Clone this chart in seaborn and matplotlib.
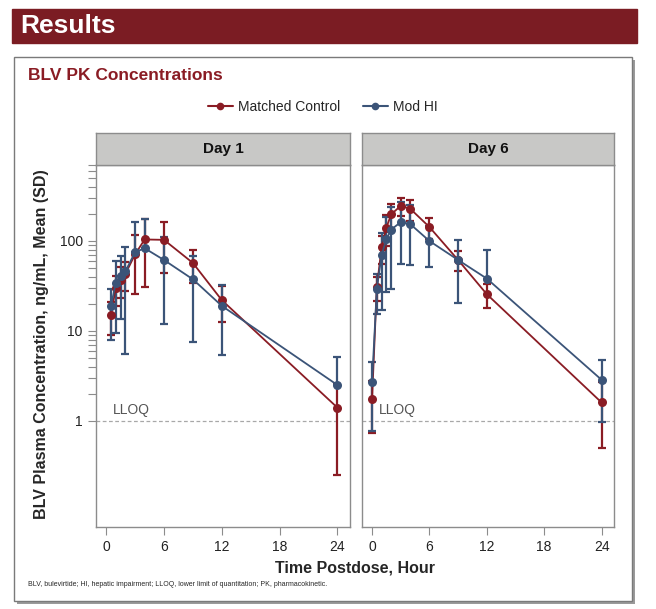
import numpy as np
import pandas as pd
import seaborn as sns
import matplotlib.pyplot as plt
from matplotlib.patches import Rectangle
from matplotlib.lines import Line2D

# values (mean and SD, ng/mL)
groups = ["Matched Control", "Mod HI"]
colors = {"Matched Control": "#8A1C24", "Mod HI": "#3B5478"}

time_d1 = [0.5, 1, 1.5, 2, 3, 4, 6, 9, 12, 24]
ctrl_mean_d1 = [15, 30, 37, 43, 71, 104, 103, 57, 22, 1.4]
ctrl_sd_d1 = [6, 11, 14, 15, 45, 73, 59, 23, 9.5, 1.15]
hi_mean_d1 = [18.8, 34.4, 41, 46, 75, 83, 61.5, 37.5, 19, 2.5]
hi_sd_d1 = [10.8, 25, 27.5, 40.5, 86, 94, 49.6, 30, 13.6, 2.6]

time_d6 = [0, 0.5, 1, 1.5, 2, 3, 4, 6, 9, 12, 24]
ctrl_mean_d6 = [1.76, 30.6, 85, 141, 198, 246, 228, 143, 61.5, 25.6, 1.6]
ctrl_sd_d6 = [1.03, 9, 30, 54, 57, 56, 60, 38, 15.5, 7.5, 1.1]
hi_mean_d6 = [2.67, 29.3, 70, 105, 134, 162, 154, 100, 61.5, 38.2, 2.86]
hi_sd_d6 = [1.9, 14, 53, 78, 105, 106, 100, 48, 41, 41, 1.9]

days = ["Day 1", "Day 6"]
x_ticks = [0, 6, 12, 18, 24]
y_major = [1, 10, 100]
y_minor = [2, 3, 4, 5, 6, 7, 8, 9, 20, 30, 40, 50, 60, 70, 80, 90,
           200, 300, 400, 500, 600, 700]

rows = []
for day, t, cm, cs, hm, hs in [
    ("Day 1", time_d1, ctrl_mean_d1, ctrl_sd_d1, hi_mean_d1, hi_sd_d1),
    ("Day 6", time_d6, ctrl_mean_d6, ctrl_sd_d6, hi_mean_d6, hi_sd_d6),
]:
    for g, m, s in [("Matched Control", cm, cs), ("Mod HI", hm, hs)]:
        for ti, mi, si in zip(t, m, s):
            rows.append({"day": day, "group": g, "time": ti, "mean": mi, "sd": si})
df = pd.DataFrame(rows)

sns.set_style("ticks")
plt.rcParams["font.family"] = ["Liberation Sans", "DejaVu Sans"]

W, H = 656, 609
fig = plt.figure(figsize=(W / 100, H / 100), dpi=100)


def fx(px):
    return px / W


def fy(py):
    return 1 - py / H


# banner
fig.patches.append(Rectangle((fx(12), fy(43)), fx(637) - fx(12), 34 / H,
                             transform=fig.transFigure, color="#7B1C23", zorder=-1))
fig.text(fx(20), fy(26), "Results", color="white", fontsize=19, fontweight="bold",
         va="center", ha="left")

# framed box with shadow
fig.patches.append(Rectangle((fx(17), fy(604)), (632 - 14) / W, (604 - 60) / H,
                             transform=fig.transFigure, facecolor="#9A9A9A",
                             edgecolor="none", zorder=-2))
fig.patches.append(Rectangle((fx(14), fy(601)), (632 - 14) / W, (601 - 57) / H,
                             transform=fig.transFigure, facecolor="white",
                             edgecolor="#7A7A7A", lw=1, zorder=-1))
fig.text(fx(28), fy(76), "BLV PK Concentrations", color="#8A1C24", fontsize=12.5,
         fontweight="bold", va="center", ha="left")

panels = [(96, 350), (362, 614)]
top, bot, head_top = 165, 527, 133
spine_c = "#8C8C8C"

for i, (day, (l, r)) in enumerate(zip(days, panels)):
    ax = fig.add_axes([fx(l), fy(bot), (r - l) / W, (bot - top) / H])
    sub = df[df["day"] == day]
    for g in groups:
        d = sub[sub["group"] == g]
        lo = d["mean"] - d["sd"]
        low_err = np.where(lo > 0, d["sd"], 0)
        ax.errorbar(d["time"], d["mean"], yerr=[low_err, d["sd"]], fmt="none",
                    ecolor=colors[g], elinewidth=1.6, capsize=3.2, capthick=1.6, zorder=2)
    sns.lineplot(data=sub, x="time", y="mean", hue="group", hue_order=groups,
                 palette=colors, marker="o", markersize=6.5, markeredgewidth=0,
                 linewidth=1.3, errorbar=None, estimator=None, legend=False,
                 ax=ax, zorder=3)
    ax.set_yscale("log")
    ax.set_ylim(0.066, 700)
    ax.set_xlim(-1.05, 25.3)
    ax.axhline(1, ls=(0, (3, 2)), color="#A8A8A8", lw=0.9, zorder=1)
    ax.text(0.75, 1.1, "LLOQ", color="#555555", fontsize=10, va="bottom", ha="left")
    ax.set_xticks(x_ticks)
    ax.set_xticklabels([str(v) for v in x_ticks])
    ax.set_xlabel("")
    ax.set_ylabel("")
    if i == 0:
        ax.set_yticks(y_major)
        ax.set_yticklabels([str(v) for v in y_major])
        ax.set_yticks(y_minor, minor=True)
        ax.set_yticklabels([], minor=True)
        ax.tick_params(axis="y", which="both", length=6, width=0.8, color=spine_c,
                       labelsize=10, labelcolor="#222222")
    else:
        ax.set_yticks([])
        ax.set_yticks([], minor=True)
    ax.tick_params(axis="x", length=6, width=0.8, color=spine_c, labelsize=10,
                   labelcolor="#222222")
    for s in ax.spines.values():
        s.set_visible(True)
        s.set_color(spine_c)
        s.set_linewidth(1)

    hax = fig.add_axes([fx(l), fy(top), (r - l) / W, (top - head_top) / H])
    hax.set_facecolor("#C8C8C6")
    hax.set_xticks([])
    hax.set_yticks([])
    for s in hax.spines.values():
        s.set_color(spine_c)
        s.set_linewidth(1)
    hax.text(0.5, 0.5, day, ha="center", va="center", fontsize=11,
             fontweight="bold", color="#111111", transform=hax.transAxes)

fig.text(fx(42), fy(344), "BLV Plasma Concentration, ng/mL, Mean (SD)", rotation=90,
         fontsize=11.5, fontweight="bold", ha="center", va="center")
fig.text(fx(355), fy(568), "Time Postdose, Hour", fontsize=11.5, fontweight="bold",
         ha="center", va="center")
fig.text(fx(28), fy(585), "BLV, bulevirtide; HI, hepatic impairment; LLOQ, lower limit "
         "of quantitation; PK, pharmacokinetic.", fontsize=5, ha="left", va="center")

handles = [Line2D([0], [0], color=colors[g], marker="o", markersize=5.5,
                  markeredgewidth=0, lw=1.5) for g in groups]
fig.legend(handles, groups, loc="center", bbox_to_anchor=(fx(323), fy(107)), ncol=2,
           frameon=False, fontsize=10, handlelength=1.8, handletextpad=0.4,
           columnspacing=1.6)

fig.savefig("out.png", dpi=100)
